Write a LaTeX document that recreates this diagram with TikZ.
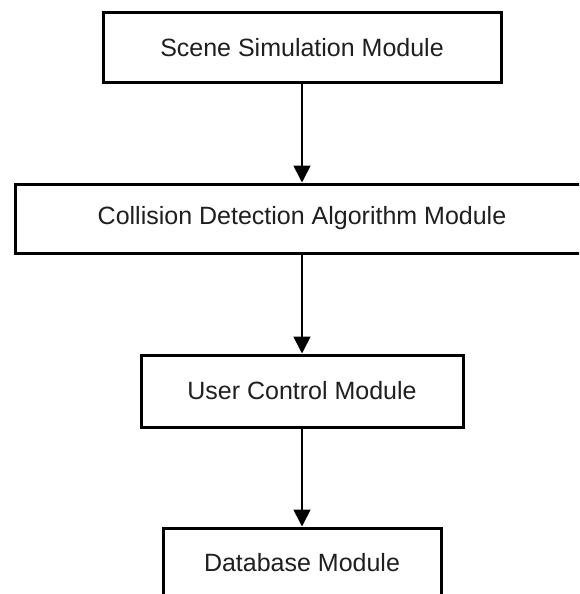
\documentclass[tikz,border=0pt]{standalone}
\usepackage{fontspec}
\setmainfont{Liberation Sans}
\usetikzlibrary{arrows.meta}

\begin{document}
\begin{tikzpicture}[x=1pt,y=-1pt,
  module/.style={draw=black, line width=3pt, fill=white, rectangle,
    inner sep=0pt, font=\fontsize{25}{30}\selectfont, text=black!88},
  flow/.style={draw=black, line width=1.7pt,
    -{Triangle[width=17pt,length=17pt]}}]
  % page frame
  \useasboundingbox (0,0) rectangle (579,594);
  \clip (0,0) rectangle (579,594);
  \fill[white] (0,0) rectangle (579,594);

  % the four modules, top to bottom
  \node[module, minimum width=398pt, minimum height=69pt] (scene) at (302,47.5) {Scene Simulation Module};
  \node[module, minimum width=574pt, minimum height=69pt] (coll) at (302,218.5) {Collision Detection Algorithm Module};
  \node[module, minimum width=322pt, minimum height=72pt] (user) at (302,391) {User Control Module};
  \node[module, minimum width=278pt, minimum height=69pt] (db) at (302,562.5) {Database Module};

  % data flow between modules
  \draw[flow] (scene.south) -- (coll.north);
  \draw[flow] (coll.south) -- (user.north);
  \draw[flow] (user.south) -- (db.north);
\end{tikzpicture}
\end{document}
